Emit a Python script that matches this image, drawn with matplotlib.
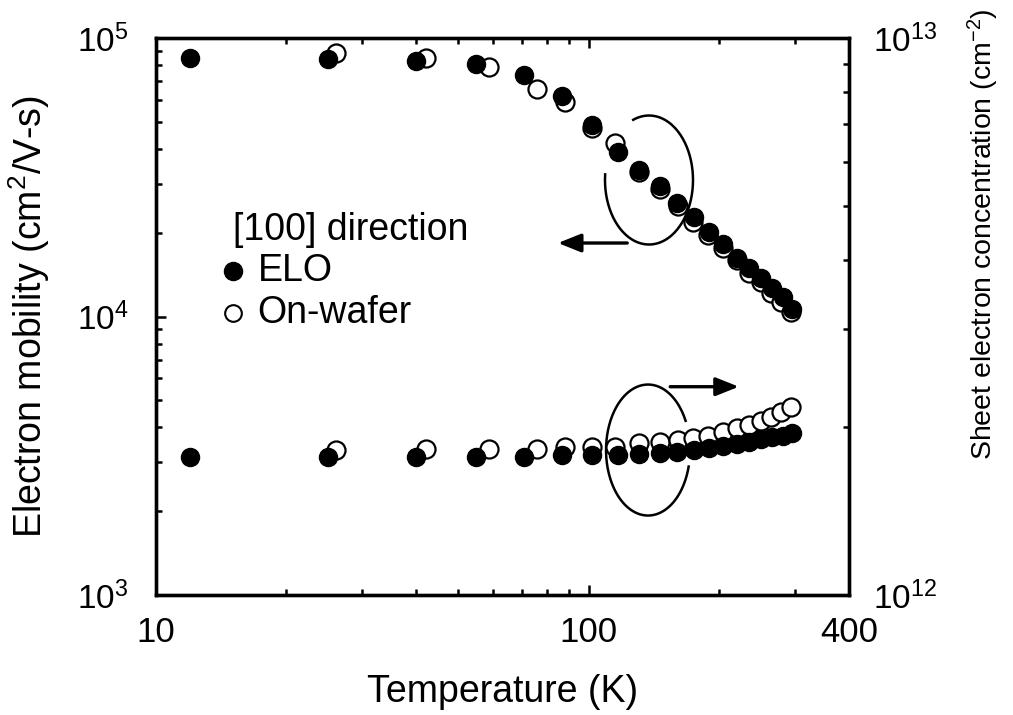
import numpy as np
import matplotlib
matplotlib.use('Agg')
import matplotlib.pyplot as plt
from matplotlib.ticker import FixedLocator, NullFormatter

plt.rcParams['font.family'] = ['Liberation Sans', 'DejaVu Sans']
plt.rcParams['mathtext.fontset'] = 'custom'
plt.rcParams['mathtext.rm'] = 'Liberation Sans'
plt.rcParams['mathtext.it'] = 'Liberation Sans:italic'
plt.rcParams['mathtext.bf'] = 'Liberation Sans:bold'
plt.rcParams['mathtext.default'] = 'regular'

# ---------------- data ----------------
T_elo = [12, 25, 40, 55, 71, 87, 102, 117, 131, 146, 160, 175, 190, 205, 220,
         235, 250, 265, 281, 296]
mu_elo = [84800, 84000, 82700, 80600, 73600, 61900, 48700, 39000, 33600, 29400,
          25600, 22760, 20110, 18210, 16220, 14930, 13750, 12660, 11750, 10600]
ns_elo = [1.767e12, 1.767e12, 1.771e12, 1.767e12, 1.767e12, 1.784e12, 1.784e12,
          1.784e12, 1.789e12, 1.796e12, 1.808e12, 1.821e12, 1.834e12, 1.851e12,
          1.867e12, 1.884e12, 1.903e12, 1.919e12, 1.930e12, 1.951e12]

T_wafer = [26, 42, 59, 76, 88, 102, 115, 131, 146, 161, 174, 189, 205, 220,
           235, 250, 264, 279, 294]
mu_wafer = [88100, 85000, 78900, 65400, 59000, 47500, 42000, 33000, 28800,
            25000, 21900, 19700, 17580, 15900, 14290, 13300, 12110, 11300, 10400]
ns_wafer = [1.821e12, 1.826e12, 1.826e12, 1.826e12, 1.846e12, 1.844e12,
            1.846e12, 1.873e12, 1.884e12, 1.897e12, 1.911e12, 1.930e12,
            1.964e12, 1.992e12, 2.020e12, 2.056e12, 2.090e12, 2.134e12, 2.178e12]

x_ticks = [10, 100, 400]
x_ticklabels = ['10', '100', '400']
y_ticks = [1e3, 1e4, 1e5]
y_ticklabels = [r'$10^3$', r'$10^4$', r'$10^5$']
y2_ticks = [1e12, 1e13]
y2_ticklabels = [r'$10^{12}$', r'$10^{13}$']

# ---------------- figure ----------------
fig = plt.figure(figsize=(10.13, 7.15), dpi=100)
ax = fig.add_axes([0.1540, 0.1678, 0.6841, 0.7790])
ax2 = ax.twinx()

ms = 13
ax.plot(T_wafer, mu_wafer, 'o', mfc='white', mec='black', mew=1.6, ms=ms, zorder=2, clip_on=False)
ax.plot(T_elo, mu_elo, 'o', mfc='black', mec='black', ms=ms, zorder=3, clip_on=False)
ax2.plot(T_wafer, ns_wafer, 'o', mfc='white', mec='black', mew=1.6, ms=ms, zorder=2, clip_on=False)
ax2.plot(T_elo, ns_elo, 'o', mfc='black', mec='black', ms=ms, zorder=3, clip_on=False)

ax.set_xscale('log')
ax.set_yscale('log')
ax2.set_yscale('log')
ax.set_xlim(10, 400)
ax.set_ylim(1e3, 1e5)
ax2.set_ylim(1e12, 1e13)

ax.xaxis.set_major_locator(FixedLocator(x_ticks))
ax.set_xticklabels(x_ticklabels)
ax.xaxis.set_minor_locator(FixedLocator([20, 30, 40, 50, 60, 70, 80, 90, 200, 300]))
ax.xaxis.set_minor_formatter(NullFormatter())

ax.yaxis.set_major_locator(FixedLocator(y_ticks))
ax.set_yticklabels(y_ticklabels)
ax.yaxis.set_minor_locator(FixedLocator([m * d for d in (1e3, 1e4) for m in range(2, 10)]))
ax.yaxis.set_minor_formatter(NullFormatter())

ax2.yaxis.set_major_locator(FixedLocator(y2_ticks))
ax2.set_yticklabels(y2_ticklabels)
ax2.yaxis.set_minor_locator(FixedLocator([m * 1e12 for m in range(2, 10)]))
ax2.yaxis.set_minor_formatter(NullFormatter())

ax.tick_params(axis='x', which='both', direction='in', top=True, bottom=True,
               width=1.8, labelsize=25, pad=15)
ax.tick_params(axis='x', which='major', length=7)
ax.tick_params(axis='x', which='minor', length=4)
ax.tick_params(axis='y', which='both', direction='in', left=True, right=False,
               width=1.8, labelsize=24, pad=20)
ax.tick_params(axis='y', which='major', length=7)
ax.tick_params(axis='y', which='minor', length=4)
ax2.tick_params(axis='y', which='both', direction='in', right=True, left=False,
                width=1.8, labelsize=24, pad=17)
ax2.tick_params(axis='y', which='major', length=7)
ax2.tick_params(axis='y', which='minor', length=4)

for a in (ax, ax2):
    for s in a.spines.values():
        s.set_linewidth(2.4)

ax.set_xlabel('Temperature (K)', fontsize=27)
ax.xaxis.set_label_coords(0.5, -0.142)
ax.set_ylabel('Electron mobility (cm$^2$/V-s)', fontsize=27)
ax.yaxis.set_label_coords(-0.15, 0.5)
ax2.set_ylabel('Sheet electron concentration (cm$^{-2}$)', fontsize=20.5)
ax2.yaxis.set_label_coords(1.169, 0.648)

# legend-like text block
ax.text(0.111, 0.655, '[100] direction', transform=ax.transAxes, fontsize=27,
        ha='left', va='center')
ax.plot([0.111], [0.582], 'o', transform=ax.transAxes, mfc='black', mec='black', ms=13)
ax.text(0.147, 0.582, 'ELO', transform=ax.transAxes, fontsize=27, ha='left', va='center')
ax.plot([0.111], [0.506], 'o', transform=ax.transAxes, mfc='white', mec='black', mew=1.5, ms=12)
ax.text(0.146, 0.506, 'On-wafer', transform=ax.transAxes, fontsize=27, ha='left', va='center')

# ellipses (open arcs) in axes coordinates
t1 = np.deg2rad(np.linspace(175, 471, 200))
cx, cy, rx, ry = 0.7114, 0.7451, 0.0635, 0.1158
ax.plot(cx + rx * np.cos(t1), cy + ry * np.sin(t1), color='black', lw=1.8,
        transform=ax.transAxes, clip_on=False)
t2 = np.deg2rad(np.linspace(26.5, 345.4, 200))
cx, cy, rx, ry = 0.710, 0.2603, 0.0606, 0.1176
ax.plot(cx + rx * np.cos(t2), cy + ry * np.sin(t2), color='black', lw=1.8,
        transform=ax.transAxes, clip_on=False)

arrow_style = dict(arrowstyle='-|>,head_length=0.7,head_width=0.28', lw=2.4,
                   color='black', mutation_scale=20, shrinkA=0, shrinkB=0)
ax.annotate('', xy=(0.580, 0.632), xytext=(0.680, 0.632), xycoords='axes fraction',
            textcoords='axes fraction', arrowprops=arrow_style)
ax.annotate('', xy=(0.841, 0.374), xytext=(0.742, 0.374), xycoords='axes fraction',
            textcoords='axes fraction', arrowprops=arrow_style)

fig.savefig('out.png', dpi=100, facecolor='white')
